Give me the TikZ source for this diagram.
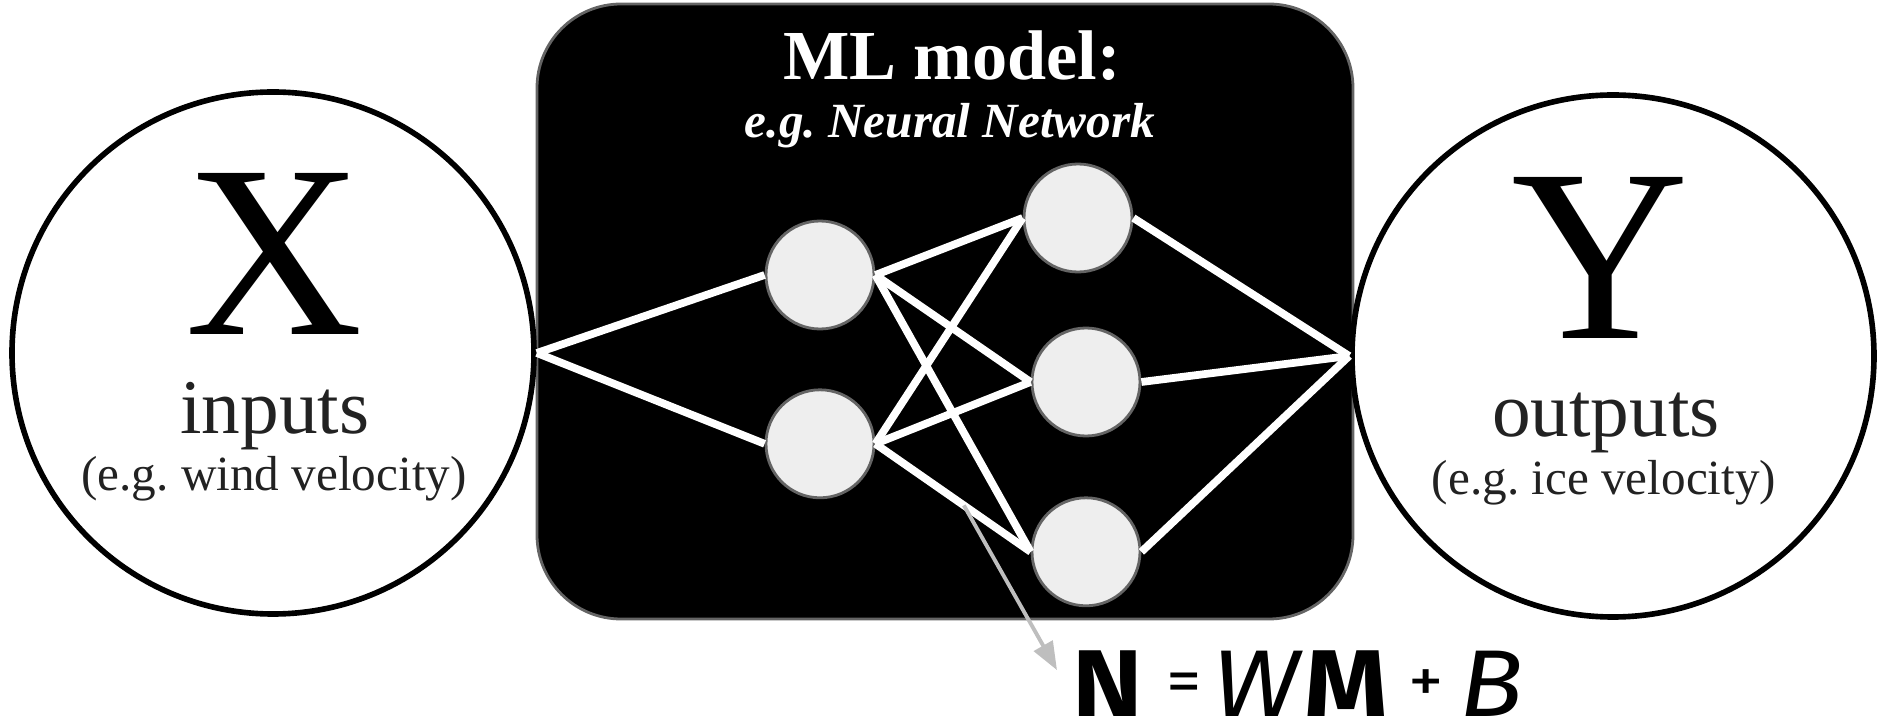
\documentclass[tikz,border=0pt]{standalone}
\usepackage{fontspec}
\setmainfont{Liberation Serif}
\newfontfamily\eqfont{Fira Sans}
\usetikzlibrary{arrows.meta,positioning,calc}
\definecolor{unitgray}{RGB}{238,238,238}
\definecolor{rimgray}{RGB}{100,100,100}
\definecolor{pointergray}{RGB}{190,190,190}
\definecolor{inkgray}{RGB}{34,34,34}
\newcommand{\smallop}[1]{\raisebox{4pt}{\fontsize{18}{18}\selectfont #1}}
\frenchspacing

\begin{document}
\begin{tikzpicture}[
    ioball/.style={circle, draw=black, line width=1.6pt, fill=white,
                   minimum size=5.22cm, inner sep=0pt},
    modelbox/.style={draw=rimgray, line width=0.8pt, fill=black, rounded corners=0.84cm,
                   minimum width=8.16cm, minimum height=6.15cm},
    unit/.style={circle, fill=unitgray, draw=rimgray, line width=0.8pt,
                   minimum size=1.08cm, inner sep=0pt},
    link/.style={draw=white, line width=2.2pt},
    pointer/.style={-{Triangle[length=8pt,width=6pt]}, draw=pointergray, fill=pointergray, line width=1.1pt},
    bigletter/.style={font=\fontsize{70}{70}\selectfont, text=black, inner sep=0pt, anchor=base},
    caption/.style={font=\fontsize{22}{24}\selectfont, text=inkgray, inner sep=0pt, anchor=base},
    example/.style={font=\fontsize{14}{16}\selectfont, text=inkgray, inner sep=0pt, anchor=base}
  ]
  \useasboundingbox (0,0) rectangle (18.78,7.27);

  % black model box with its title
  \node[modelbox] (model) at (9.45,4.155) {};
  \node[anchor=base, text=white, font=\fontsize{20}{22}\selectfont\bfseries] (title) at (9.52,6.47) {ML model:};
  \node[anchor=base, text=white, font=\fontsize{14}{16}\selectfont\bfseries\itshape] (subtitle) at (9.50,5.89) {e.g. Neural Network};

  % inputs and outputs
  \node[ioball] (in) at (2.73,3.74) {};
  \node[bigletter] (X) at (2.74,3.92) {X};
  \node[caption] (inlabel) at (2.75,2.93) {inputs};
  \node[example] (inex) at (2.74,2.36) {(e.g. wind velocity)};

  \node[ioball] (out) at (16.13,3.71) {};
  \node[bigletter] (Y) at (16.00,3.88) {Y};
  \node[caption] (outlabel) at (16.06,2.90) {outputs};
  \node[example] (outex) at (16.04,2.32) {(e.g. ice velocity)};

  % network units
  \node[unit] (a1) at (8.20,4.52) {};
  \node[unit, below=0.58cm of a1] (a2) {};
  \node[unit] (b1) at (10.78,5.09) {};
  \node[unit] (b2) at (10.86,3.45) {};
  \node[unit, below=0.59cm of b2] (b3) {};

  \foreach \a in {a1,a2}
    \draw[link] (in.east) -- (\a.west);
  \foreach \a in {a1,a2}
    \foreach \b in {b1,b2,b3}
      \draw[link] (\a.east) -- (\b.west);
  \foreach \b in {b1,b2,b3}
    \draw[link] (\b.east) -- (out.west);

  % weight equation
  \node[anchor=base west, inner sep=0pt, xscale=1.12, transform shape,
        font=\eqfont\fontsize{27}{30}\selectfont] (eq) at (10.72,0.10)
    {\textbf{N}\hspace{6pt}\smallop{=}\hspace{2.5pt}\textit{W}\hspace{0.5pt}\textbf{M}\hspace{5pt}\smallop{+}\hspace{4pt}\textit{B}};

  \path (a2.east) -- coordinate[pos=0.57] (w) (b3.west);
  \draw[pointer] (w) -- ([xshift=-0.15cm,yshift=0.14cm]eq.west);
\end{tikzpicture}
\end{document}
